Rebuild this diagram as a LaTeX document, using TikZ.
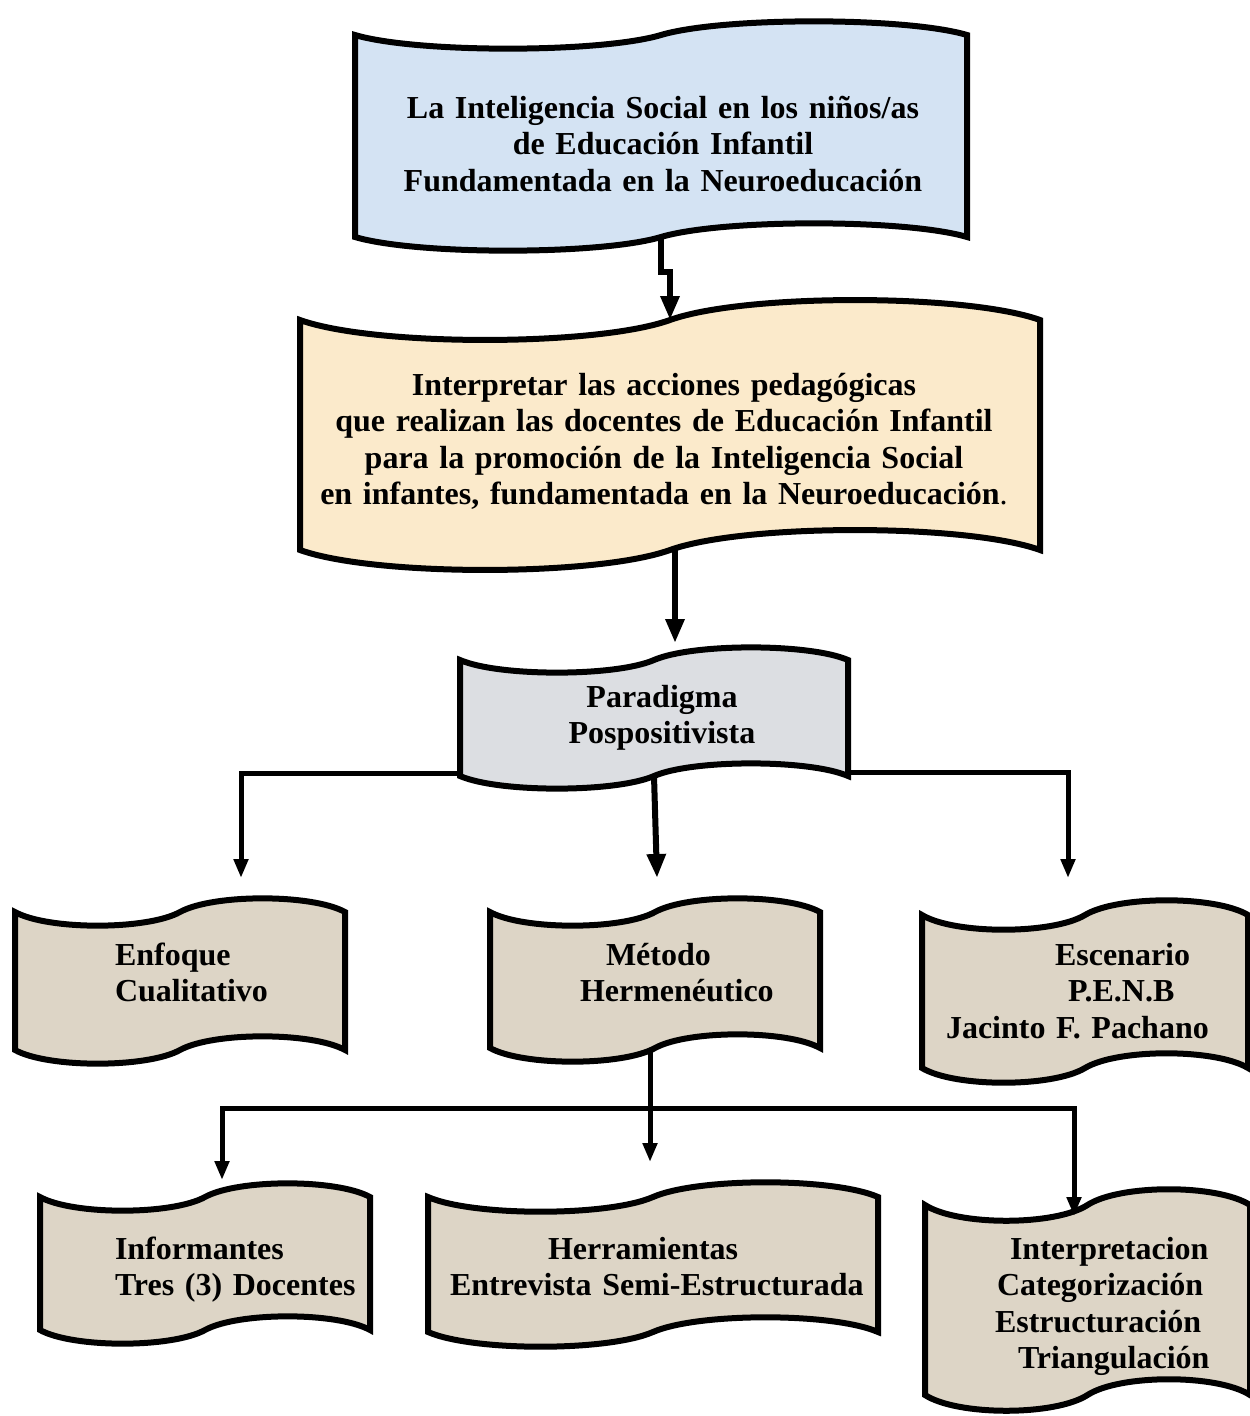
\documentclass[tikz,border=0pt]{standalone}
\usepackage{fontspec}
\setmainfont{Liberation Serif}
\usetikzlibrary{arrows.meta,calc}
\definecolor{cblue}{HTML}{D4E3F3}
\definecolor{cpeach}{HTML}{FBEACB}
\definecolor{cmarble}{HTML}{DCDEE2}
\definecolor{cbeige}{HTML}{DDD5C6}
\newcommand\boxfont{\bfseries\fontsize{32}{36.6}\selectfont}
% #1 name, #2 L, #3 R, #4 T, #5 B, #6 amplitude, #7 fill
\newcommand\wavebox[7]{%
  \filldraw[boxline, fill=#7]
    (#2,#4) .. controls ({#2+0.1*(#3-#2)},{#4+1.4*#6}) and ({(#2+#3)/2-0.1*(#3-#2)},{#4+1.4*#6}) .. ({(#2+#3)/2},#4)
    .. controls ({(#2+#3)/2+0.1*(#3-#2)},{#4-1.4*#6}) and ({#3-0.1*(#3-#2)},{#4-1.4*#6}) .. (#3,#4)
    -- (#3,#5)
    .. controls ({#3-0.1*(#3-#2)},{#5-1.4*#6}) and ({(#2+#3)/2+0.1*(#3-#2)},{#5-1.4*#6}) .. ({(#2+#3)/2},#5)
    .. controls ({(#2+#3)/2-0.1*(#3-#2)},{#5+1.4*#6}) and ({#2+0.1*(#3-#2)},{#5+1.4*#6}) .. (#2,#5)
    -- cycle;
  \node[inner sep=0pt, outer sep=0pt, minimum width={(#3-#2)*1pt}, minimum height={(#5-#4)*1pt}]
    (#1) at ({(#2+#3)/2},{(#4+#5)/2}) {};
}
\begin{document}
{\boxfont\fontdimen2\font=6.6pt}%
\begin{tikzpicture}[x=1pt,y=-1pt,
  boxline/.style={line width=6pt, draw=black, miter limit=4},
  txt/.style={font=\boxfont, inner sep=0pt, outer sep=0pt},
  conn/.style={line width=5pt, draw=black},
  tipS/.style={-{Triangle[length=19pt,width=14pt]}},
  tipL/.style={-{Triangle[length=24pt,width=18pt]}}
]
\useasboundingbox[fill=white] (0,0) rectangle (1250,1416);

% boxes
\wavebox{b1}{355}{967}{35}{237}{13}{cblue}
\wavebox{b2}{300}{1040}{320}{550}{19}{cpeach}
\wavebox{b3}{460}{848}{660}{776}{12}{cmarble}
\wavebox{b4}{15}{345}{912}{1050}{13}{cbeige}
\wavebox{b5}{490}{820}{912}{1048}{13}{cbeige}
\wavebox{b6}{922}{1248}{915}{1068}{14}{cbeige}
\wavebox{b7}{40}{370}{1197}{1330}{13}{cbeige}
\wavebox{b8}{428}{878}{1197}{1332}{14}{cbeige}
\wavebox{b9}{925}{1250}{1205}{1395}{15}{cbeige}

% texts
\node[txt, anchor=base, text width=640pt, align=center] (t1) at (663,118)
  {La Inteligencia Social en los niños/as\\de Educación Infantil\\Fundamentada en la Neuroeducación};
\node[txt, anchor=base, text width=720pt, align=center] (t2) at (664,395)
  {Interpretar las acciones pedagógicas\\que realizan las docentes de Educación Infantil\\para la promoción de la Inteligencia Social\\en infantes, fundamentada en la Neuroeducación{\mdseries .}};
\node[txt, anchor=base, text width=360pt, align=center] (t3) at (662,707)
  {Paradigma\\Pospositivista};
\node[txt, anchor=base west, text width=220pt, align=left] (t4) at (115,965)
  {Enfoque\\Cualitativo};
\node[txt, anchor=base west, text width=230pt, align=left] (t5) at (580,965)
  {\hspace*{26pt}Método\\Hermenéutico};
\node[txt, anchor=base west, text width=290pt, align=left] (t6) at (946,965)
  {\hspace*{109pt}Escenario\\\hspace*{122pt}P.E.N.B\\Jacinto F. Pachano};
\node[txt, anchor=base west, text width=250pt, align=left] (t7) at (115,1259)
  {Informantes\\Tres (3) Docentes};
\node[txt, anchor=base west, text width=420pt, align=left] (t8) at (450,1259)
  {\hspace*{98pt}Herramientas\\Entrevista Semi-Estructurada};
\node[txt, anchor=base west, text width=250pt, align=left] (t9) at (995,1259)
  {\hspace*{15pt}Interpretacion\\\hspace*{2pt}Categorización\\Estructuración\\\hspace*{23pt}Triangulación};

% connector end points
\coordinate (c2) at (675,643);
\coordinate (c31) at (241,878);
\coordinate (c32) at (657,878);
\coordinate (c33) at (1068,878);
\coordinate (j) at (649,1108);
\coordinate (c41) at (222,1180);
\coordinate (c42) at (650,1162);
\coordinate (c43) at (1074,1216);

% connectors
\draw[conn, line width=6pt, tipL] (b1.south) -- ++(0,35) -| (b2.north);
\draw[conn, line width=6pt, tipL] (c2 |- b2.south) -- (c2);
\draw[conn, tipS] ($(b3.south west)+(0,-3)$) -| (c31);
\draw[conn, tipS] ($(b3.south east)+(0,-4)$) -| (c33);
\draw[conn, line width=6pt, tipL] (b3.south) -- (c32);
\draw[conn, tipS] (c42 |- b5.south) -- (c42);
\draw[conn, tipS] (j) -| (c41);
\draw[conn, tipS] (j) -| (c43);
\end{tikzpicture}
\end{document}
